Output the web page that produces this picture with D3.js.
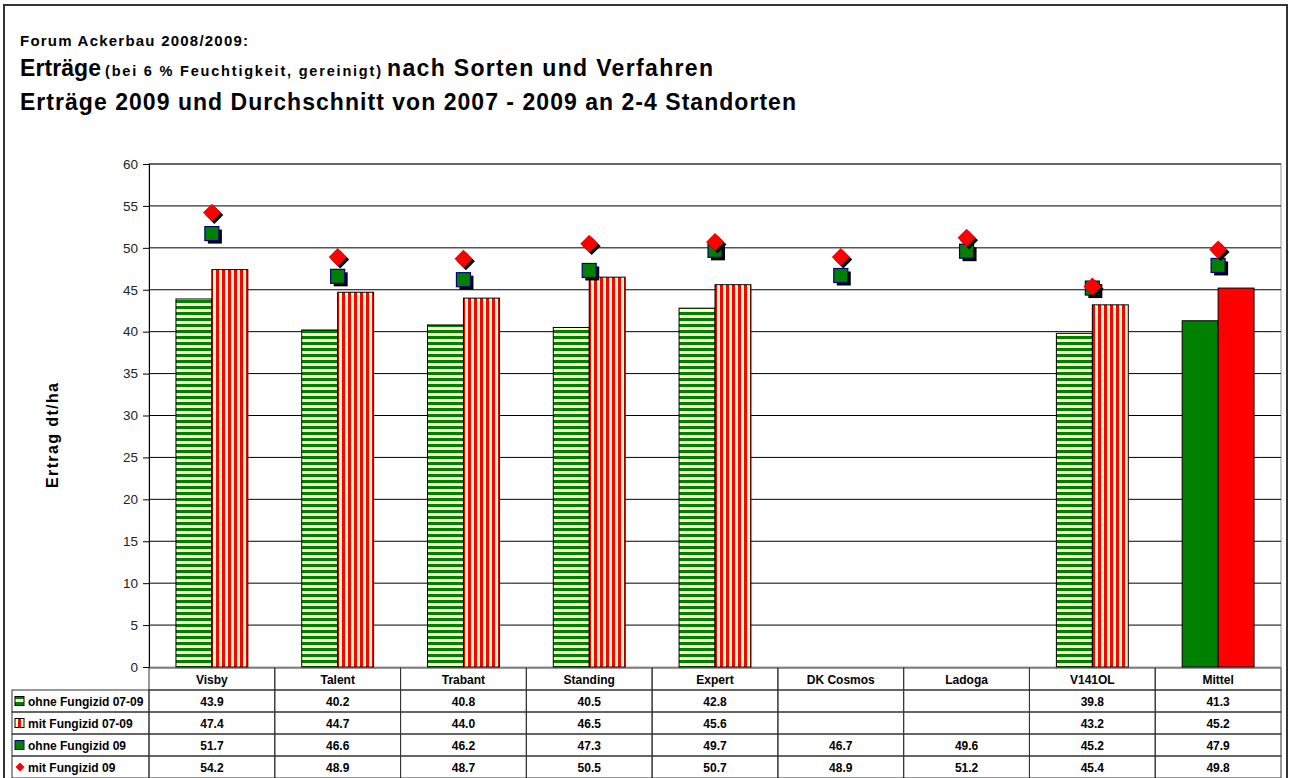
<!DOCTYPE html>
<html>
<head>
<meta charset="utf-8">
<script src="https://cdn.jsdelivr.net/npm/d3@7"></script>
<style>
  body { margin: 0; background: #fff; }
  svg { display: block; font-family: "Liberation Sans", Arial, sans-serif; }
</style>
</head>
<body>
<div id="chart"></div>
<script>
// data
var sorten = ["Visby", "Talent", "Trabant", "Standing", "Expert", "DK Cosmos", "Ladoga", "V141OL", "Mittel"];
var ohne0709 = [43.9, 40.2, 40.8, 40.5, 42.8, null, null, 39.8, 41.3];
var mit0709  = [47.4, 44.7, 44.0, 46.5, 45.6, null, null, 43.2, 45.2];
var ohne09   = [51.7, 46.6, 46.2, 47.3, 49.7, 46.7, 49.6, 45.2, 47.9];
var mit09    = [54.2, 48.9, 48.7, 50.5, 50.7, 48.9, 51.2, 45.4, 49.8];
var yTicks = [0, 5, 10, 15, 20, 25, 30, 35, 40, 45, 50, 55, 60];
var reihen = ["ohne Fungizid 07-09", "mit Fungizid 07-09", "ohne Fungizid 09", "mit Fungizid 09"];

var width = 1292, height = 778;
var plot = {left: 149, right: 1281, top: 164, bottom: 667};

var svg = d3.select("#chart").append("svg")
    .attr("width", width)
    .attr("height", height);

var defs = svg.append("defs");
// green horizontal stripes
var pg = defs.append("pattern").attr("id", "gstripe")
    .attr("patternUnits", "userSpaceOnUse").attr("width", 6).attr("height", 6);
pg.append("rect").attr("width", 6).attr("height", 6).attr("fill", "#ffffcc");
pg.append("rect").attr("width", 6).attr("height", 3).attr("fill", "#008000");
// red vertical stripes
var pr = defs.append("pattern").attr("id", "rstripe")
    .attr("patternUnits", "userSpaceOnUse").attr("width", 6).attr("height", 6);
pr.append("rect").attr("width", 6).attr("height", 6).attr("fill", "#ffffcc");
pr.append("rect").attr("width", 3).attr("height", 6).attr("fill", "#ff0000");

// outer frame
svg.append("rect")
    .attr("x", 4).attr("y", 5).attr("width", 1283).attr("height", 790)
    .attr("fill", "none").attr("stroke", "#333").attr("stroke-width", 2);

// titles (fitted to the original widths)
function titel(txt, xx, yy, size, len) {
  svg.append("text").attr("x", xx).attr("y", yy)
      .attr("font-size", size).attr("font-weight", "bold")
      .attr("textLength", len).attr("lengthAdjust", "spacing")
      .text(txt);
}
titel("Forum Ackerbau 2008/2009:", 20, 46, 15, 228);
titel("Erträge", 20, 76, 23, 81);
titel("(bei 6 % Feuchtigkeit, gereinigt)", 105, 76, 14.5, 276);
titel("nach Sorten und Verfahren", 387, 76, 23, 326);
titel("Erträge 2009 und Durchschnitt von 2007 - 2009 an 2-4 Standorten", 20, 110, 23, 776);

// scales
var x = d3.scaleBand().domain(sorten).range([plot.left, plot.right]).padding(0);
var xs = d3.scaleBand().domain([0, 1]).range([0, x.bandwidth()])
    .paddingInner(0).paddingOuter(0.75);
var y = d3.scaleLinear().domain([0, 60]).range([plot.bottom, plot.top]);

// plot area border
svg.append("rect")
    .attr("x", plot.left).attr("y", plot.top)
    .attr("width", plot.right - plot.left).attr("height", plot.bottom - plot.top)
    .attr("fill", "none").attr("stroke", "#999");

// grid lines
svg.append("g").selectAll("line").data(yTicks.slice(1)).join("line")
    .attr("x1", plot.left).attr("x2", plot.right)
    .attr("y1", d => y(d)).attr("y2", d => y(d))
    .attr("stroke", "#000");

// y axis
var yAxis = svg.append("g")
    .attr("transform", "translate(" + plot.left + ",0)")
    .call(d3.axisLeft(y).tickValues(yTicks).tickSize(6).tickPadding(5));
yAxis.select(".domain").attr("stroke", "#000");
yAxis.selectAll(".tick line").attr("stroke", "#000");
yAxis.selectAll("text").attr("font-size", 13.5).attr("fill", "#222")
    .attr("font-family", "Liberation Sans, Arial, sans-serif");

svg.append("text")
    .attr("transform", "translate(58,488) rotate(-90)")
    .attr("font-size", 16).attr("font-weight", "bold")
    .attr("textLength", 105).attr("lengthAdjust", "spacing")
    .text("Ertrag dt/ha");

// bars
var mittel = "Mittel";
var barData = [];
sorten.forEach(function (s, i) {
  if (ohne0709[i] != null) barData.push({s: s, k: 0, v: ohne0709[i]});
  if (mit0709[i] != null) barData.push({s: s, k: 1, v: mit0709[i]});
});
svg.append("g").selectAll("rect").data(barData).join("rect")
    .attr("x", d => x(d.s) + xs(d.k))
    .attr("y", d => y(d.v))
    .attr("width", xs.bandwidth())
    .attr("height", d => y(0) - y(d.v))
    .attr("fill", function (d) {
      if (d.s == mittel) return d.k == 0 ? "#008000" : "#ff0000";
      return d.k == 0 ? "url(#gstripe)" : "url(#rstripe)";
    })
    .attr("stroke", "#000").attr("stroke-width", 1);

// markers: squares (ohne 09) and diamonds (mit 09), with shadow
var cx = s => x(s) + x.bandwidth() / 2;
var sq = 14;
var gm = svg.append("g");
gm.selectAll("rect.sh").data(sorten).join("rect").attr("class", "sh")
    .attr("x", (s) => cx(s) - sq / 2 + 3)
    .attr("y", (s, i) => y(ohne09[i]) - sq / 2 + 3)
    .attr("width", sq).attr("height", sq).attr("fill", "#000");
gm.selectAll("rect.sq").data(sorten).join("rect").attr("class", "sq")
    .attr("x", (s) => cx(s) - sq / 2)
    .attr("y", (s, i) => y(ohne09[i]) - sq / 2)
    .attr("width", sq).attr("height", sq)
    .attr("fill", "#008000").attr("stroke", "#000080").attr("stroke-width", 1.2);

var diamond = d3.symbol().type(d3.symbolSquare).size(160);
gm.selectAll("path.sh").data(sorten).join("path").attr("class", "sh")
    .attr("d", diamond)
    .attr("transform", (s, i) => "translate(" + (cx(s) + 2.5) + "," + (y(mit09[i]) + 2.5) + ") rotate(45)")
    .attr("fill", "#000");
gm.selectAll("path.dm").data(sorten).join("path").attr("class", "dm")
    .attr("d", diamond)
    .attr("transform", (s, i) => "translate(" + cx(s) + "," + y(mit09[i]) + ") rotate(45)")
    .attr("fill", "#ff0000");

// data table
var rowH = 22;
var tTop = plot.bottom + 1;
var tLeft = 12;
var tbl = svg.append("g").attr("stroke", "#333").attr("stroke-width", 1);
// header row (categories)
sorten.forEach(function (s) {
  tbl.append("rect").attr("x", x(s)).attr("y", tTop)
      .attr("width", x.bandwidth()).attr("height", rowH).attr("fill", "none");
});
var rows = [ohne0709, mit0709, ohne09, mit09];
rows.forEach(function (r, j) {
  var ry = tTop + rowH * (j + 1);
  tbl.append("rect").attr("x", tLeft).attr("y", ry)
      .attr("width", plot.left - tLeft).attr("height", rowH).attr("fill", "none");
  sorten.forEach(function (s) {
    tbl.append("rect").attr("x", x(s)).attr("y", ry)
        .attr("width", x.bandwidth()).attr("height", rowH).attr("fill", "none");
  });
});

var tt = svg.append("g").attr("font-size", 12).attr("font-weight", "bold");
tt.selectAll("text.h").data(sorten).join("text").attr("class", "h")
    .attr("x", cx).attr("y", tTop + 15.5)
    .attr("text-anchor", "middle").text(d => d);
rows.forEach(function (r, j) {
  var ry = tTop + rowH * (j + 1);
  tt.append("g").selectAll("text").data(sorten).join("text")
      .attr("x", cx).attr("y", ry + 15.5)
      .attr("text-anchor", "middle")
      .text((s, i) => r[i] == null ? "" : r[i].toFixed(1));
  tt.append("text").attr("x", 28).attr("y", ry + 15.5).text(reihen[j]);
});

// legend keys in table
var ky = j => tTop + rowH * (j + 1) + rowH / 2;
svg.append("rect").attr("x", 15).attr("y", ky(0) - 4.5).attr("width", 9).attr("height", 9)
    .attr("fill", "url(#gstripe)").attr("stroke", "#000");
svg.append("rect").attr("x", 15).attr("y", ky(1) - 4.5).attr("width", 9).attr("height", 9)
    .attr("fill", "url(#rstripe)").attr("stroke", "#000");
svg.append("rect").attr("x", 15).attr("y", ky(2) - 4.5).attr("width", 9).attr("height", 9)
    .attr("fill", "#008000").attr("stroke", "#000080");
svg.append("path").attr("d", d3.symbol().type(d3.symbolSquare).size(40))
    .attr("transform", "translate(20," + ky(3) + ") rotate(45)")
    .attr("fill", "#ff0000");
</script>
</body>
</html>
